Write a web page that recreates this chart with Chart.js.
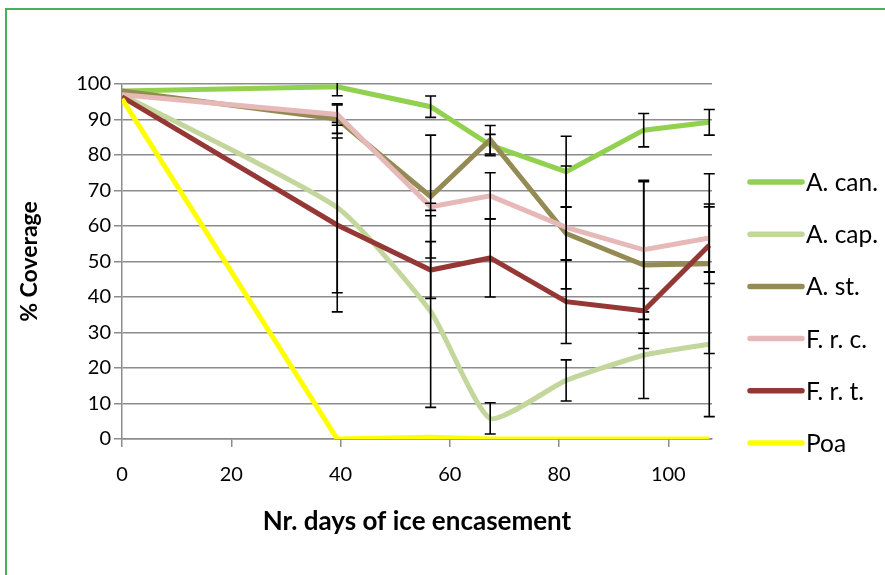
<!DOCTYPE html>
<html>
<head>
<meta charset="utf-8">
<script src="https://cdn.jsdelivr.net/npm/chart.js@4.4.1/dist/chart.umd.min.js"></script>
<style>
  html, body { margin: 0; padding: 0; background: #fff; overflow: hidden; }
  #frame { position: absolute; left: 5px; top: 8px; width: 1000px; height: 1000px;
           border-left: 2px solid #46b05a; border-top: 2px solid #46b05a; }
  #wrap { position: absolute; left: 0; top: 0; width: 885px; height: 575px; }
</style>
</head>
<body>
<div id="frame"></div>
<div id="wrap"><canvas id="c"></canvas></div>
<script>
// Sampling days (x) and mean % coverage per species, with error half-widths
const days = [0, 39.4, 56.5, 67.4, 81.3, 95.5, 107.5];
const seriesNames = ['A. can.', 'A. cap.', 'A. st.', 'F. r. c.', 'F. r. t.', 'Poa'];

const aCan    = [98.0, 99.2, 93.6, 82.8, 75.3, 87.0, 89.2];
const aCanErr = [0, 2.5, 3.0, 3.0, 10.0, 4.7, 3.6];

const aCap    = [97.0, 65.2, 35.9, 5.8, 16.5, 23.6, 26.7];
const aCapErr = [0, 24.0, 27.0, 4.4, 5.8, 12.2, 20.4];

const aSt     = [98.0, 90.1, 68.3, 84.3, 57.9, 49.0, 49.4];
const aStErr  = [0, 4.0, 17.3, 4.0, 7.5, 23.5, 25.3];

const frc     = [97.0, 91.4, 65.4, 68.5, 59.6, 53.3, 56.6];
const frcErr  = [0, 3.0, 1.0, 6.5, 17.3, 19.6, 9.6];

const frt     = [96.4, 60.3, 47.6, 51.0, 38.7, 36.1, 54.6];
const frtErr  = [0, 24.5, 8.0, 11.0, 11.8, 6.3, 10.8];

const poa     = [95.8, 0, 0.5, 0, 0, 0, 0];
const poaErr  = [0, 0, 0, 0, 0, 0, 0];

const seriesValues = [aCan, aCap, aSt, frc, frt, poa];
const seriesErrors = [aCanErr, aCapErr, aStErr, frcErr, frtErr, poaErr];
const seriesColors = ['#92d050', '#c3d69b', '#948a54', '#e6b9b8', '#953735', '#ffff00'];
const seriesTension = [0, 0.18, 0, 0, 0, 0];

const FONT = 'Lato, "Open Sans", "Liberation Sans", sans-serif';

const datasets = seriesNames.map((name, i) => ({
  label: name,
  data: days.map((d, j) => ({ x: d, y: seriesValues[i][j] })),
  errors: seriesErrors[i],
  borderColor: seriesColors[i],
  backgroundColor: seriesColors[i],
  borderWidth: 5,
  pointRadius: 0,
  pointHoverRadius: 0,
  tension: seriesTension[i],
  fill: false,
  order: seriesNames.length - i   // later series are painted on top
}));

// Vertical error bars with caps, drawn right after each series' line
const errorBars = {
  id: 'errorBars',
  afterDatasetDraw(chart, args) {
    const ds = chart.data.datasets[args.index];
    if (!ds.errors) return;
    const { ctx, chartArea, scales: { x, y } } = chart;
    ctx.save();
    ctx.beginPath();
    ctx.rect(chartArea.left - 10, chartArea.top - 1, chartArea.width + 20, chartArea.height + 2);
    ctx.clip();
    ctx.strokeStyle = '#000';
    ctx.lineWidth = 1.6;
    ds.errors.forEach((e, j) => {
      if (!e) return;
      const pt = ds.data[j];
      const px = x.getPixelForValue(pt.x);
      const top = y.getPixelForValue(pt.y + e);
      const bot = y.getPixelForValue(pt.y - e);
      ctx.beginPath();
      ctx.moveTo(px, top); ctx.lineTo(px, bot);
      ctx.moveTo(px - 5.5, top); ctx.lineTo(px + 5.5, top);
      ctx.moveTo(px - 5.5, bot); ctx.lineTo(px + 5.5, bot);
      ctx.stroke();
    });
    ctx.restore();
  }
};

// Legend at the right: a short line sample followed by the series name
const sideLegend = {
  id: 'sideLegend',
  afterDraw(chart) {
    const { ctx } = chart;
    const x0 = 750, x1 = 802, textX = 806, y0 = 182, step = 52.2;
    ctx.save();
    ctx.font = '24.5px ' + FONT;
    ctx.textAlign = 'left';
    ctx.textBaseline = 'middle';
    chart.data.datasets.forEach((ds, i) => {
      const yy = y0 + i * step;
      ctx.strokeStyle = ds.borderColor;
      ctx.lineWidth = 5.5;
      ctx.lineCap = 'round';
      ctx.beginPath();
      ctx.moveTo(x0, yy); ctx.lineTo(x1, yy);
      ctx.stroke();
      ctx.fillStyle = '#000';
      ctx.fillText(ds.label, textX, yy + 1);
    });
    ctx.restore();
  }
};

new Chart(document.getElementById('c'), {
  type: 'line',
  data: { datasets },
  plugins: [errorBars, sideLegend],
  options: {
    responsive: true,
    maintainAspectRatio: false,
    animation: false,
    events: [],
    layout: { padding: { top: 84, right: 173, left: 0, bottom: 0 } },
    plugins: { legend: { display: false }, tooltip: { enabled: false } },
    scales: {
      x: {
        type: 'linear',
        min: 0,
        max: 108,
        afterFit(scale) { scale.height = 136; },
        ticks: {
          stepSize: 20,
          includeBounds: false,
          color: '#000',
          padding: 16,
          maxRotation: 0,
          font: { family: FONT, size: 20 }
        },
        grid: {
          drawOnChartArea: false,
          drawTicks: true,
          tickLength: 8,
          color: '#8c8c8c',
          lineWidth: 1.5
        },
        border: { display: true, color: '#8c8c8c', width: 1.5 },
        title: {
          display: true,
          text: 'Nr. days of ice encasement',
          color: '#000',
          font: { family: FONT, size: 26, weight: 'bold' },
          padding: { top: 0, bottom: 38 }
        }
      },
      y: {
        min: 0,
        max: 100,
        afterFit(scale) { scale.width = 122; },
        ticks: {
          stepSize: 10,
          color: '#000',
          padding: 3,
          font: { family: FONT, size: 20 }
        },
        grid: {
          drawTicks: true,
          tickLength: 8,
          color: '#8c8c8c',
          lineWidth: 1.5
        },
        border: { display: true, color: '#8c8c8c', width: 1.5 },
        title: {
          display: true,
          text: '% Coverage',
          color: '#000',
          font: { family: FONT, size: 23, weight: 'bold' },
          padding: { top: 16, bottom: 0 }
        }
      }
    }
  }
});
</script>
</body>
</html>
